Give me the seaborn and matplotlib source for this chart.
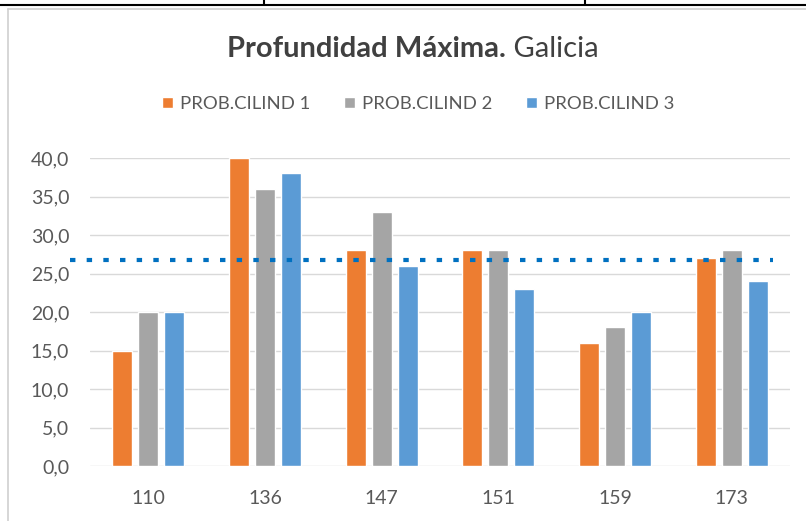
import numpy as np
import pandas as pd
import seaborn as sns
import matplotlib.pyplot as plt
from matplotlib.lines import Line2D

# datos
parcelas = ['110', '136', '147', '151', '159', '173']
series = ['PROB.CILIND 1', 'PROB.CILIND 2', 'PROB.CILIND 3']
cilind_1 = [15, 40, 28, 28, 16, 27]
cilind_2 = [20, 36, 33, 28, 18, 28]
cilind_3 = [20, 38, 26, 23, 20, 24]
referencia = 26.7

colores = ['#ED7D31', '#A5A5A5', '#5B9BD5']
texto = '#595959'

df = pd.DataFrame({
    'parcela': parcelas * 3,
    'serie': np.repeat(series, len(parcelas)),
    'valor': cilind_1 + cilind_2 + cilind_3,
})

sns.set_theme(style='white')
plt.rcParams['font.family'] = ['Lato', 'DejaVu Sans']

fig = plt.figure(figsize=(8.06, 5.21), dpi=100)
ax = fig.add_axes([90 / 806, 1 - 466 / 521, 700 / 806, 308 / 521])

sns.barplot(data=df, x='parcela', y='valor', hue='serie', order=parcelas,
            hue_order=series, palette=colores, width=0.67, gap=0.23,
            saturation=1, ax=ax, legend=True)

ax.set_ylim(0, 40)
ax.set_xlim(-0.5, len(parcelas) - 0.5)
ax.set_yticks(np.arange(0, 41, 5))
ax.set_yticklabels([f'{v:.1f}'.replace('.', ',') for v in np.arange(0, 41, 5)])
ax.grid(axis='y', color='#D9D9D9', linewidth=1)
ax.set_axisbelow(True)
for s in ax.spines.values():
    s.set_visible(False)
ax.tick_params(axis='both', length=0, labelsize=14, labelcolor=texto)
ax.tick_params(axis='x', pad=17)
ax.tick_params(axis='y', pad=15)
ax.set_xlabel('')
ax.set_ylabel('')

# línea de referencia punteada
ax.axhline(referencia, xmin=-0.029, xmax=0.976, color='#0070C0', linewidth=3,
           linestyle=(0, (1.3, 2.7)), dash_capstyle='butt', clip_on=False, zorder=5)

# leyenda arriba
handles, labels = ax.get_legend_handles_labels()
ax.legend(handles, labels, loc='center', bbox_to_anchor=(0.469, 1.175), ncol=3,
          frameon=False, fontsize=13.3, labelcolor=texto, handlelength=0.6,
          handleheight=0.6, handletextpad=0.4, columnspacing=1.8)

# título: parte en negrita y parte normal, centrado en conjunto
yt = 1 - 57 / 521
t1 = fig.text(0, yt, 'Profundidad Máxima.', ha='left', va='baseline',
              fontsize=21, fontweight='bold', color='#404040')
t2 = fig.text(0, yt, ' Galicia', ha='left', va='baseline',
              fontsize=21, color='#404040')
r = fig.canvas.get_renderer()
w1 = t1.get_window_extent(r).width
w2 = t2.get_window_extent(r).width
x0 = 413 - (w1 + w2) / 2
t1.set_x(x0 / 806)
t2.set_x((x0 + w1) / 806)

# bordes del marco
fig.add_artist(Line2D([0, 1], [1 - 5 / 521] * 2, color='black', lw=1.5))
for xv in (264, 585):
    fig.add_artist(Line2D([xv / 806] * 2, [1, 1 - 5 / 521], color='black', lw=1.5))
fig.add_artist(Line2D([8 / 806, 8 / 806], [0, 1 - 9 / 521], color='#D0D0D0', lw=1.2))
fig.add_artist(Line2D([8 / 806, 1], [1 - 9 / 521] * 2, color='#D0D0D0', lw=1.2))

fig.savefig('out.png', dpi=100)
